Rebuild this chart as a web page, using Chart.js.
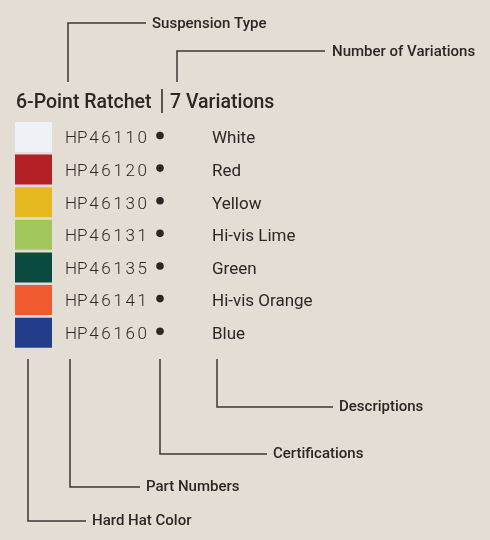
<!DOCTYPE html>
<html>
<head>
<meta charset="utf-8">
<script src="https://cdn.jsdelivr.net/npm/chart.js@4"></script>
<style>
  html, body { margin: 0; padding: 0; background: #e4ddd4; }
  canvas { display: block; }
</style>
</head>
<body>
<canvas id="chart" width="490" height="540"></canvas>
<script>
// data
const colorNames = ['White', 'Red', 'Yellow', 'Hi-vis Lime', 'Green', 'Hi-vis Orange', 'Blue'];
const partNumbers = ['HP46110', 'HP46120', 'HP46130', 'HP46131', 'HP46135', 'HP46141', 'HP46160'];
const swatchColors = ['#eef1f5', '#b22126', '#e7b920', '#a2c65b', '#0b4a3f', '#f15a2c', '#233d8b'];
const swatchValues = [1, 1, 1, 1, 1, 1, 1];
const suspension = '6-Point Ratchet';
const variations = '7 Variations';

const FONT = 'Roboto, "DejaVu Sans", sans-serif';
const INK = '#2a2725';
const LINE = '#3b3733';

function leader(ctx, pts, label, lx, ly) {
    ctx.save();
    ctx.strokeStyle = LINE;
    ctx.lineWidth = 1.5;
    ctx.beginPath();
    ctx.moveTo(pts[0][0], pts[0][1]);
    for (let i = 1; i < pts.length; i++) ctx.lineTo(pts[i][0], pts[i][1]);
    ctx.stroke();
    ctx.fillStyle = INK;
    ctx.font = '500 15px ' + FONT;
    ctx.textBaseline = 'middle';
    ctx.textAlign = 'left';
    ctx.fillText(label, lx, ly);
    ctx.restore();
}

// draws the title, row texts and leader callouts
const diagramPlugin = {
    id: 'diagram',
    afterDraw(chart) {
        const ctx = chart.ctx;
        const yScale = chart.scales.y;

        // title
        ctx.save();
        ctx.fillStyle = INK;
        ctx.font = '500 19.5px ' + FONT;
        ctx.textBaseline = 'alphabetic';
        ctx.fillText(suspension, 16, 108);
        ctx.fillText(variations, 170, 108);
        ctx.strokeStyle = INK;
        ctx.lineWidth = 1.5;
        ctx.beginPath();
        ctx.moveTo(162, 89);
        ctx.lineTo(162, 113);
        ctx.stroke();
        ctx.restore();

        // rows
        partNumbers.forEach((pn, i) => {
            const y = yScale.getPixelForValue(i);
            ctx.save();
            ctx.fillStyle = INK;
            ctx.font = '300 17px ' + FONT;
            ctx.textBaseline = 'alphabetic';
            for (let c = 0; c < pn.length; c++) {
                ctx.fillText(pn[c], 65 + c * 12.1, y + 6.3);
            }
            ctx.beginPath();
            ctx.arc(160, y - 1.5, 3.8, 0, Math.PI * 2);
            ctx.fill();
            ctx.font = '400 17px ' + FONT;
            ctx.fillText(colorNames[i], 212, y + 6.3);
            ctx.restore();
        });

        // callouts
        leader(ctx, [[68, 82], [68, 23], [146, 23]], 'Suspension Type', 152, 24);
        leader(ctx, [[177, 82], [177, 51], [325, 51]], 'Number of Variations', 332, 52);
        leader(ctx, [[217, 359], [217, 407], [333, 407]], 'Descriptions', 339, 407);
        leader(ctx, [[160, 359], [160, 454], [267, 454]], 'Certifications', 273, 454);
        leader(ctx, [[70, 359], [70, 487], [140, 487]], 'Part Numbers', 146, 487);
        leader(ctx, [[28, 359], [28, 521], [86, 521]], 'Hard Hat Color', 92, 521);
    }
};

new Chart(document.getElementById('chart').getContext('2d'), {
    type: 'bar',
    data: {
        labels: partNumbers,
        datasets: [{
            data: swatchValues,
            backgroundColor: swatchColors,
            borderWidth: 0,
            barPercentage: 0.92,
            categoryPercentage: 1
        }]
    },
    options: {
        indexAxis: 'y',
        responsive: false,
        animation: false,
        layout: {
            padding: { left: 15, right: 438, top: 120.7, bottom: 191 }
        },
        scales: {
            x: { display: false, min: 0, max: 1 },
            y: { display: false }
        },
        plugins: {
            legend: { display: false },
            tooltip: { enabled: false }
        }
    },
    plugins: [diagramPlugin]
});
</script>
</body>
</html>
